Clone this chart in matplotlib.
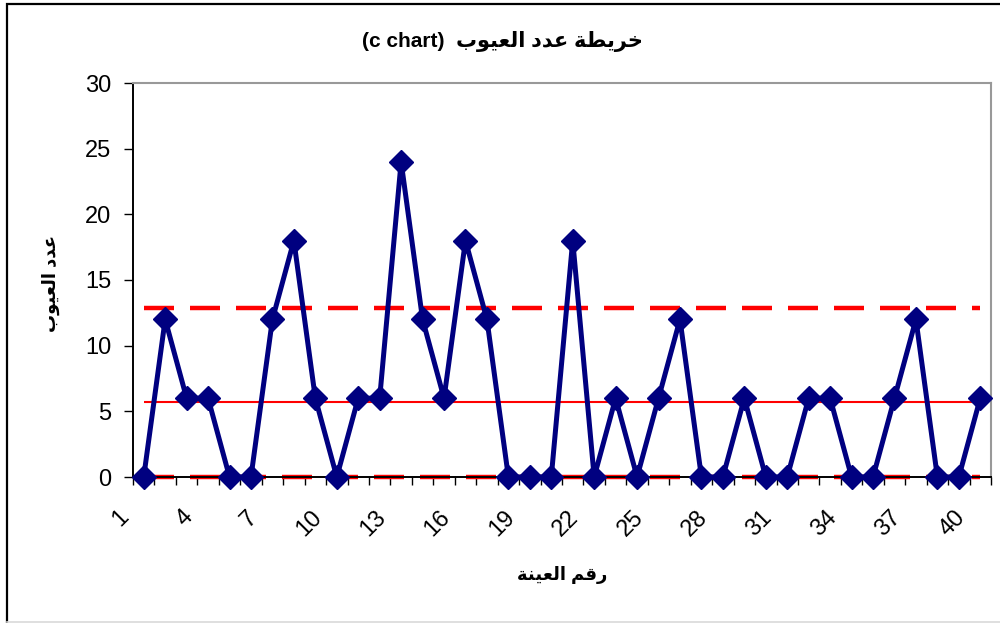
import matplotlib
matplotlib.use('Agg')
import matplotlib.pyplot as plt
from matplotlib.transforms import ScaledTranslation
from matplotlib.patches import Rectangle
from matplotlib.lines import Line2D

# ---------------- data ----------------
samples = list(range(1, 41))
defects = [0, 12, 6, 6, 0, 0, 12, 18, 6, 0,
           6, 6, 24, 12, 6, 18, 12, 0, 0, 0,
           18, 0, 6, 0, 6, 12, 0, 0, 6, 0,
           0, 6, 6, 0, 0, 6, 12, 0, 0, 6]
center_line = 5.7
upper_limit = 12.86
lower_limit = 0.0
x_tick_values = samples[::3]
y_tick_values = [0, 5, 10, 15, 20, 25, 30]

# Arabic texts (presentation forms, visual order for LTR rendering)
w_kharita = "\uFE94\uFEC4\uFEF3\uFEAE\uFEA7"          # خريطة
w_adad = "\uFEA9\uFEAA\uFECB"                          # عدد
w_aloyoob = "\uFE8F\uFEEE\uFEF4\uFECC\uFEDF\uFE8D"     # العيوب
w_raqm = "\uFEE2\uFED7\uFEAD"                          # رقم
w_alayyina = "\uFE94\uFEE8\uFEF4\uFECC\uFEDF\uFE8D"    # العينة
title_text = "(c chart)  " + w_aloyoob + " " + w_adad + " " + w_kharita
ylabel_text = w_aloyoob + " " + w_adad
xlabel_text = w_alayyina + " " + w_raqm

FAM = ['Liberation Sans', 'DejaVu Sans']
plt.rcParams['font.family'] = FAM

fig = plt.figure(figsize=(10, 6.23), dpi=100)
ax = fig.add_axes([133 / 1000, 1 - 477 / 623, (991 - 133) / 1000, (477 - 83) / 623])

# control lines
dash = (0, (6.75, 3.6))
ax.plot([samples[0], samples[-1]], [upper_limit, upper_limit], color='#FF0000',
        lw=3.2, linestyle=dash, zorder=2, solid_capstyle='butt', dash_capstyle='butt')
ax.plot([samples[0], samples[-1]], [lower_limit, lower_limit], color='#FF0000',
        lw=3.2, linestyle=dash, zorder=2, clip_on=False, dash_capstyle='butt')
ax.plot([samples[0], samples[-1]], [center_line, center_line], color='#FF0000',
        lw=1.5, zorder=2, solid_capstyle='butt')

# data series
ax.plot(samples, defects, color='#000080', lw=3.6, marker='D', markersize=12,
        markerfacecolor='#000080', markeredgecolor='#000080', zorder=3, clip_on=False)

ax.set_xlim(0.5, 40.5)
ax.set_ylim(0, 30)

# ticks
ax.set_yticks(y_tick_values)
ax.set_yticklabels([str(v) for v in y_tick_values], fontsize=17)
ax.tick_params(axis='y', direction='out', length=6.5, width=1, pad=9, color='black')

boundaries = [s - 0.5 for s in samples] + [samples[-1] + 0.5]
ax.set_xticks(boundaries)
ax.set_xticklabels([])
ax.tick_params(axis='x', which='major', direction='out', length=6, width=1, color='black')
ax.set_xticks(x_tick_values, minor=True)
ax.set_xticklabels([str(v) for v in x_tick_values], minor=True, fontsize=17,
                   rotation=45, ha='right', va='top')
ax.tick_params(axis='x', which='minor', length=0, pad=21)
off = ScaledTranslation(-10.75 / 100, 0, fig.dpi_scale_trans)
for lab in ax.get_xticklabels(minor=True):
    lab.set_transform(lab.get_transform() + off)

# spines
for s in ['left', 'bottom']:
    ax.spines[s].set_color('black')
    ax.spines[s].set_linewidth(1.4)
for s in ['top', 'right']:
    ax.spines[s].set_color('#999999')
    ax.spines[s].set_linewidth(1.5)

# texts
fig.text(0.502, 1 - 41 / 623, title_text, ha='center', va='center',
         fontsize=15, fontweight='bold', family=FAM)
fig.text(51 / 1000, 1 - 283 / 623, ylabel_text, ha='center', va='center',
         rotation=90, fontsize=13, fontweight='bold', family=FAM)
fig.text(562 / 1000, 1 - 575 / 623, xlabel_text, ha='center', va='center',
         fontsize=13, fontweight='bold', family=FAM)

# chart frame
fig.add_artist(Rectangle((7 / 1000, -0.05), 1.2, 1 - 3.5 / 623 + 0.05,
                         transform=fig.transFigure, fill=False, lw=1.6,
                         edgecolor='black', clip_on=False))
fig.add_artist(Line2D([7 / 1000, 1], [0.6 / 623, 0.6 / 623], transform=fig.transFigure,
                      color='#d9d9d9', lw=1.2))

fig.savefig('out.png', dpi=100)
